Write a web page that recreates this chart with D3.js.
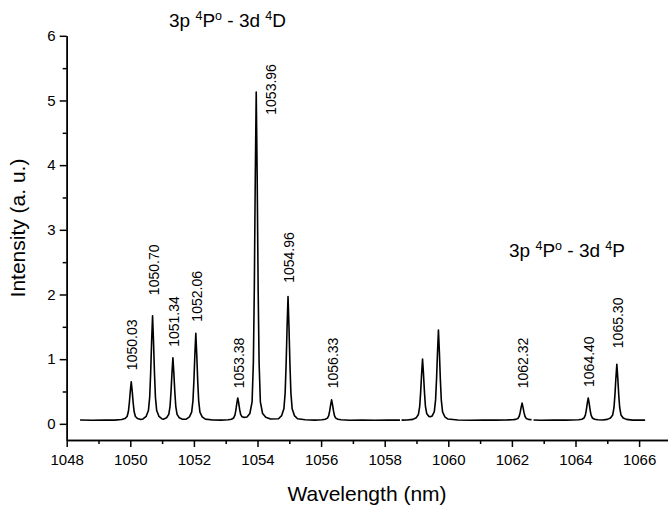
<!DOCTYPE html>
<html>
<head>
<meta charset="utf-8">
<script src="https://cdn.jsdelivr.net/npm/d3@7"></script>
<style>
  body { margin: 0; background: #fff; }
  svg { font-family: Arial, "Liberation Sans", sans-serif; }
</style>
</head>
<body>
<svg width="668" height="508"></svg>
<script>
// spectrum points: [wavelength nm, intensity a.u.]; null = gap between windows
var spectrum = [
  [1048.42,0.060],[1048.80,0.055],[1049.20,0.060],[1049.50,0.057],
  [1049.73,0.066],[1049.83,0.081],[1049.90,0.113],[1049.94,0.190],[1049.97,0.326],[1050.00,0.503],[1050.03,0.650],
  [1050.06,0.503],[1050.09,0.326],[1050.12,0.190],[1050.16,0.113],[1050.23,0.081],[1050.33,0.066],
  [1050.40,0.076],[1050.50,0.116],[1050.57,0.205],[1050.61,0.414],[1050.64,0.785],[1050.67,1.268],[1050.70,1.670],
  [1050.73,1.268],[1050.76,0.785],[1050.79,0.414],[1050.83,0.205],[1050.90,0.116],[1051.00,0.076],
  [1051.04,0.070],[1051.14,0.094],[1051.21,0.146],[1051.25,0.271],[1051.28,0.492],[1051.31,0.780],[1051.34,1.020],
  [1051.37,0.780],[1051.40,0.492],[1051.43,0.271],[1051.47,0.146],[1051.54,0.094],[1051.64,0.070],
  [1051.76,0.073],[1051.86,0.107],[1051.93,0.181],[1051.97,0.355],[1052.00,0.663],[1052.03,1.065],[1052.06,1.400],
  [1052.09,1.065],[1052.12,0.663],[1052.15,0.355],[1052.19,0.181],[1052.26,0.107],[1052.36,0.073],
  [1052.60,0.060],[1052.85,0.058],
  [1053.08,0.063],[1053.18,0.072],[1053.25,0.091],[1053.29,0.135],[1053.32,0.213],[1053.35,0.315],[1053.38,0.400],
  [1053.41,0.318],[1053.44,0.218],[1053.47,0.145],[1053.51,0.110],[1053.58,0.100],[1053.67,0.105],
  [1053.76,0.160],[1053.83,0.340],[1053.87,0.950],[1053.90,2.100],[1053.93,3.800],[1053.96,5.130],
  [1053.99,3.800],[1054.02,2.100],[1054.05,0.950],[1054.09,0.340],[1054.16,0.160],[1054.26,0.100],[1054.41,0.075],
  [1054.66,0.079],[1054.76,0.127],[1054.83,0.232],[1054.87,0.480],[1054.90,0.920],[1054.93,1.493],[1054.96,1.970],
  [1054.99,1.493],[1055.02,0.920],[1055.05,0.480],[1055.09,0.232],[1055.16,0.127],[1055.26,0.079],
  [1055.50,0.062],[1055.80,0.057],
  [1056.03,0.063],[1056.13,0.071],[1056.20,0.088],[1056.24,0.128],[1056.27,0.200],[1056.30,0.293],[1056.33,0.370],
  [1056.36,0.293],[1056.39,0.200],[1056.42,0.128],[1056.46,0.088],[1056.53,0.071],[1056.63,0.063],
  [1056.90,0.055],[1057.30,0.060],[1057.70,0.055],[1058.10,0.060],[1058.48,0.058],
  null,
  [1058.53,0.058],[1058.70,0.060],
  [1058.89,0.069],[1058.99,0.093],[1059.06,0.145],[1059.10,0.267],[1059.13,0.483],[1059.16,0.765],[1059.19,1.000],
  [1059.22,0.770],[1059.25,0.490],[1059.28,0.275],[1059.32,0.160],[1059.39,0.115],[1059.44,0.110],
  [1059.49,0.120],[1059.56,0.190],[1059.60,0.370],[1059.63,0.690],[1059.66,1.100],[1059.69,1.450],
  [1059.72,1.103],[1059.75,0.686],[1059.78,0.366],[1059.82,0.185],[1059.89,0.109],[1059.99,0.074],
  [1060.30,0.060],[1060.70,0.055],[1061.10,0.060],[1061.50,0.058],[1061.80,0.060],
  [1062.02,0.063],[1062.12,0.069],[1062.19,0.083],[1062.23,0.117],[1062.26,0.177],[1062.29,0.255],[1062.32,0.320],
  [1062.35,0.255],[1062.38,0.177],[1062.41,0.117],[1062.45,0.083],[1062.52,0.069],[1062.62,0.063],
  null,
  [1062.68,0.060],[1062.90,0.055],[1063.30,0.060],[1063.70,0.058],
  [1064.10,0.063],[1064.20,0.072],[1064.27,0.091],[1064.31,0.135],[1064.34,0.213],[1064.37,0.315],[1064.40,0.400],
  [1064.43,0.315],[1064.46,0.213],[1064.49,0.135],[1064.53,0.091],[1064.60,0.072],[1064.70,0.063],
  [1064.85,0.060],
  [1065.00,0.069],[1065.10,0.090],[1065.17,0.137],[1065.21,0.249],[1065.24,0.447],[1065.27,0.705],[1065.30,0.920],
  [1065.33,0.705],[1065.36,0.447],[1065.39,0.249],[1065.43,0.137],[1065.50,0.090],[1065.60,0.069],
  [1065.80,0.058],[1066.00,0.060],[1066.19,0.058]
];

// line labels (nm) and the intensity level where each label starts
var lineLabels = ["1050.03","1050.70","1051.34","1052.06","1053.38","1053.96","1054.96","1056.33","1062.32","1064.40","1065.30"];
var labelLevel = [0.83, 1.99, 1.19, 1.58, 0.55, 4.78, 2.18, 0.55, 0.55, 0.57, 1.17];

var xMajor = [1048,1050,1052,1054,1056,1058,1060,1062,1064,1066];
var xMinor = [1049,1051,1053,1055,1057,1059,1061,1063,1065,1067];
var yMajor = [0,1,2,3,4,5,6];
var yMinor = [0.5,1.5,2.5,3.5,4.5,5.5];

var svg = d3.select("svg");

var xScale = d3.scaleLinear().domain([1048,1067]).range([66.7,670.9]);
var yScale = d3.scaleLinear().domain([-0.25,6]).range([440,35.8]);

// axes
svg.append("g").attr("transform","translate(0,440)")
  .call(d3.axisBottom(xScale).tickValues(xMajor).tickFormat(d3.format("d")).tickSize(7).tickSizeOuter(0).tickPadding(7));
svg.append("g").attr("transform","translate(0,440)")
  .call(d3.axisBottom(xScale).tickValues(xMinor).tickFormat("").tickSize(4).tickSizeOuter(0));

svg.append("g").attr("transform","translate(66.7,0)")
  .call(d3.axisLeft(yScale).tickValues(yMajor).tickFormat(d3.format("d")).tickSize(7).tickSizeOuter(0).tickPadding(4));
svg.append("g").attr("transform","translate(66.7,0)")
  .call(d3.axisLeft(yScale).tickValues(yMinor).tickFormat("").tickSize(4).tickSizeOuter(0));

svg.selectAll(".domain, .tick line").attr("stroke","#000").attr("stroke-width",1.5);
svg.selectAll(".tick text").attr("font-size","15px").attr("fill","#000")
  .attr("font-family","Arial, 'Liberation Sans', sans-serif");

// spectrum line
var line = d3.line()
  .defined(function(d){ return d !== null; })
  .x(function(d){ return xScale(d[0]); })
  .y(function(d){ return yScale(d[1]); });

svg.append("path")
  .datum(spectrum)
  .attr("d", line)
  .attr("fill","none")
  .attr("stroke","#000")
  .attr("stroke-width",1.6)
  .attr("stroke-linejoin","round");

// peak labels, rotated
svg.selectAll(".plabel")
  .data(lineLabels)
  .enter()
  .append("text")
  .attr("class","plabel")
  .attr("transform",function(d,i){
    var off = d === "1053.96" ? 20 : 6;
    return "translate(" + (xScale(+d) + off) + "," + yScale(labelLevel[i]) + ") rotate(-90)";
  })
  .attr("font-size","14px")
  .text(function(d){ return d; });

// multiplet titles
function multiplet(x, y, last) {
  var t = svg.append("text").attr("x",x).attr("y",y).attr("font-size","19px");
  t.append("tspan").text("3p ");
  t.append("tspan").attr("dy",-7).attr("font-size","12.5px").text("4");
  t.append("tspan").attr("dy",7).text("P");
  t.append("tspan").attr("dy",-7).attr("font-size","12.5px").text("o");
  t.append("tspan").attr("dy",7).text(" - 3d ");
  t.append("tspan").attr("dy",-7).attr("font-size","12.5px").text("4");
  t.append("tspan").attr("dy",7).text(last);
}
multiplet(169, 27, "D");
multiplet(509, 257, "P");

// axis titles
svg.append("text")
  .attr("x",367).attr("y",501)
  .attr("text-anchor","middle")
  .attr("font-size","21px")
  .text("Wavelength (nm)");

svg.append("text")
  .attr("transform","translate(25,228) rotate(-90)")
  .attr("text-anchor","middle")
  .attr("font-size","21px")
  .text("Intensity (a. u.)");
</script>
</body>
</html>
